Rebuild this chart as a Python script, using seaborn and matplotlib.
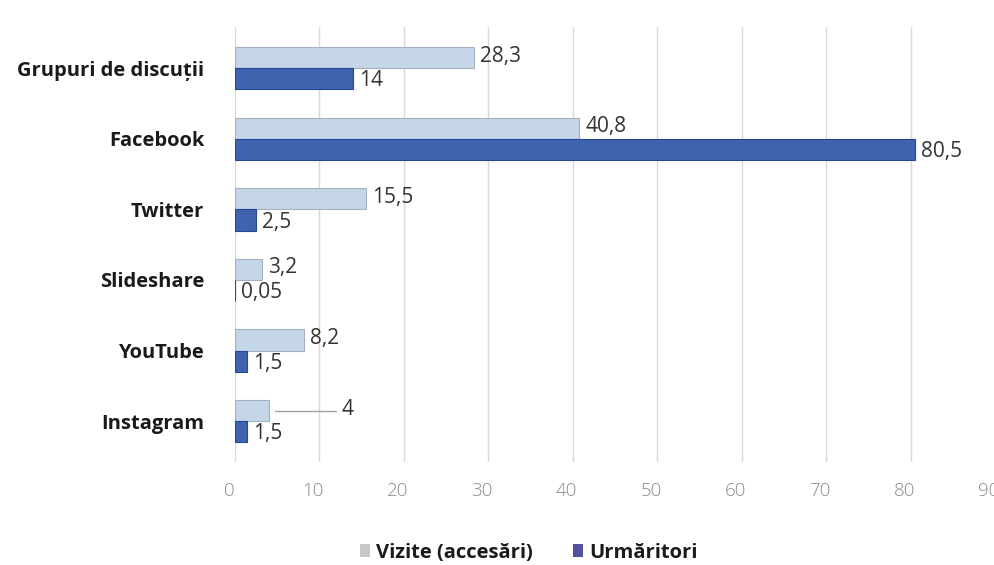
import matplotlib
matplotlib.use("Agg")
import matplotlib.pyplot as plt
import matplotlib.transforms as mtransforms
import seaborn as sns
import pandas as pd
from matplotlib.patches import Patch

categories = ["Grupuri de discuții", "Facebook", "Twitter", "Slideshare", "YouTube", "Instagram"]
vizite = [28.3, 40.8, 15.5, 3.2, 8.2, 4]
urmaritori = [14, 80.5, 2.5, 0.05, 1.5, 1.5]
series_names = ["Vizite (accesări)", "Urmăritori"]
xticks = [0, 10, 20, 30, 40, 50, 60, 70, 80, 90]

rows = []
for c, v, u in zip(categories, vizite, urmaritori):
    rows.append({"cat": c, "series": series_names[0], "val": v})
    rows.append({"cat": c, "series": series_names[1], "val": u})
df = pd.DataFrame(rows)

sns.set_theme(style="white")
plt.rcParams["font.family"] = ["Open Sans", "DejaVu Sans"]

fig = plt.figure(figsize=(9.95, 5.65), dpi=100)
ax = fig.add_axes([0.236, 0.182, 0.764, 0.770])

colors = {series_names[0]: "#BFD6EE", series_names[1]: "#2C5DC0"}
sns.barplot(data=df, y="cat", x="val", hue="series", order=categories,
            hue_order=series_names, palette=colors, orient="h", width=0.6,
            gap=0, ax=ax, legend=False)

n = len(categories)
for i, p in enumerate(ax.patches[:2 * n]):
    if i < n:
        p.set_edgecolor("#A3B1C0")
    else:
        p.set_edgecolor("#22489A")
    p.set_linewidth(0.8)

ax.set_xlim(0, 90)
ax.set_xticks(xticks)
ax.set_xticklabels([str(t) for t in xticks], color="#8A8A8A", fontsize=13.5,
                   fontweight="light")
ax.tick_params(axis="x", pad=14, length=0)
shift = mtransforms.ScaledTranslation(-6 / 100, 0, fig.dpi_scale_trans)
for lab in ax.get_xticklabels():
    lab.set_transform(lab.get_transform() + shift)
ax.tick_params(axis="y", length=0, pad=22)
for lab in ax.get_yticklabels():
    lab.set_fontweight("bold")
    lab.set_fontsize(14.5)
    lab.set_color("#1A1A1A")
ax.set_xlabel("")
ax.set_ylabel("")
ax.grid(axis="x", color="#D9D9D9", linewidth=1)
ax.set_axisbelow(True)
for s in ax.spines.values():
    s.set_visible(False)

def fmt(v):
    s = f"{v:g}"
    return s.replace(".", ",")

bw = 0.3
fs = 15
for i, (v, u) in enumerate(zip(vizite, urmaritori)):
    yv = i - bw / 2
    yu = i + bw / 2
    if categories[i] == "Instagram":
        ax.plot([v + 0.8, v + 8.0], [yv, yv], color="#A0A0A0", lw=1)
        ax.text(v + 8.6, yv - 0.02, fmt(v), va="center", ha="left", fontsize=fs, color="#333333")
    else:
        ax.text(v + 0.7, yv - 0.02, fmt(v), va="center", ha="left", fontsize=fs, color="#333333")
    ax.text(u + 0.7, yu + 0.03, fmt(u), va="center", ha="left", fontsize=fs, color="#333333")

handles = [Patch(facecolor="#C8C8C8", edgecolor="none"),
           Patch(facecolor="#52529E", edgecolor="none")]
leg = fig.legend(handles, series_names, loc="center", bbox_to_anchor=(0.531, 0.022),
                 ncol=2, frameon=False, handlelength=0.5, handleheight=0.6,
                 handletextpad=0.3, columnspacing=2.0,
                 prop={"weight": "bold", "size": 14.5})
for t in leg.get_texts():
    t.set_color("#1A1A1A")

fig.savefig("out.png", dpi=100)
